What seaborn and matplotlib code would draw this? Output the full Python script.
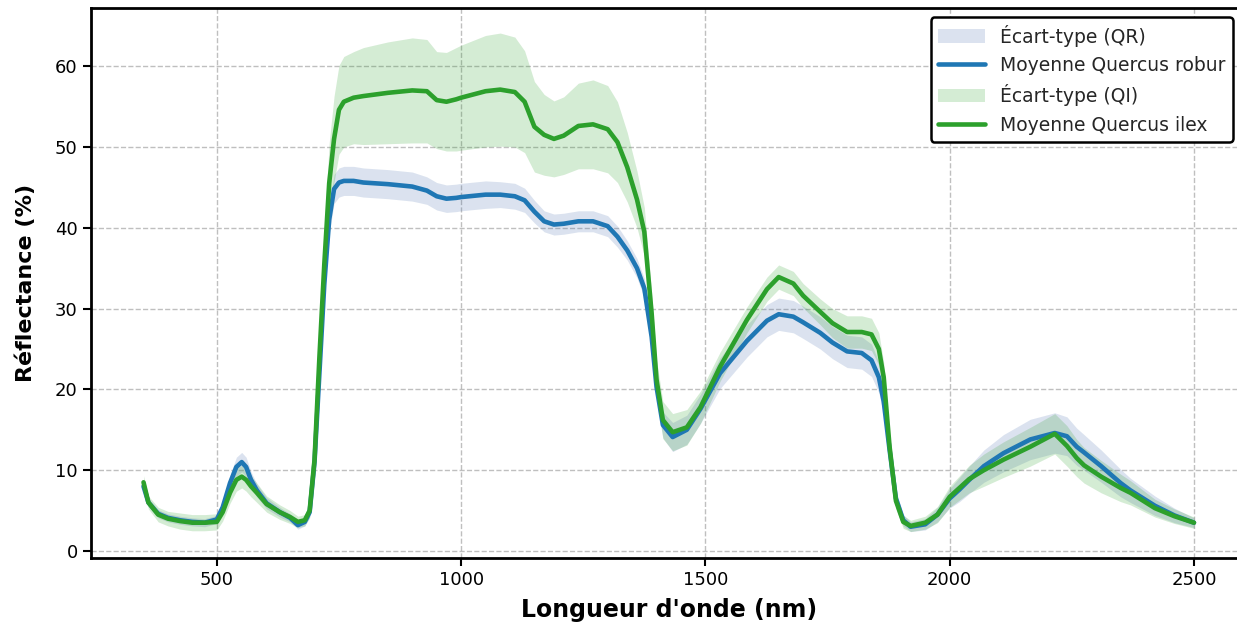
import numpy as np
import pandas as pd
import matplotlib
matplotlib.use("Agg")
import matplotlib.pyplot as plt
import seaborn as sns

wavelengths = [350, 360, 380, 400, 425, 450, 475, 500, 512, 527, 540, 551, 560, 570, 582,
               602, 629, 650, 666, 680, 690, 700, 710, 720, 730, 740, 750, 760, 780, 800, 850,
               900, 930, 950, 970, 990, 1000, 1050, 1080, 1110, 1130, 1150, 1170, 1190, 1210,
               1240, 1270, 1300, 1320, 1340, 1360, 1375, 1390, 1400, 1413, 1433, 1462, 1490,
               1530, 1585, 1626, 1650, 1680, 1700, 1735, 1760, 1790, 1820, 1840, 1855, 1865,
               1877, 1890, 1905, 1920, 1950, 1975, 2000, 2020, 2040, 2070, 2110, 2165, 2215,
               2240, 2260, 2275, 2310, 2350, 2370, 2420, 2460, 2500]

mean_qr = [8.0, 6.0, 4.6, 4.1, 3.8, 3.6, 3.5, 3.9, 5.4, 8.4, 10.4, 11.0, 10.4, 8.8, 7.5,
           5.9, 4.8, 4.1, 3.2, 3.6, 4.8, 11.0, 22.0, 33.0, 41.0, 44.8, 45.6, 45.8, 45.8, 45.6, 45.4,
           45.1, 44.6, 43.9, 43.6, 43.7, 43.8, 44.1, 44.1, 43.9, 43.4, 42.0, 40.8, 40.4, 40.5,
           40.8, 40.8, 40.2, 38.9, 37.2, 35.0, 32.5, 26.5, 20.3, 15.6, 14.1, 15.0, 17.6,
           22.0, 26.0, 28.5, 29.3, 29.0, 28.3, 27.0, 25.8, 24.7, 24.5, 23.6, 21.5, 18.5,
           12.5, 6.5, 3.8, 3.0, 3.3, 4.5, 6.5, 7.6, 8.8, 10.5, 12.1, 13.8, 14.6,
           14.2, 12.9, 12.2, 10.5, 8.4, 7.5, 5.6, 4.4, 3.5]

std_qr = [0.6, 0.5, 0.5, 0.5, 0.5, 0.5, 0.5, 0.5, 0.7, 1.0, 1.2, 1.2, 1.2, 1.0, 0.8,
          0.7, 0.6, 0.5, 0.5, 0.5, 0.6, 1.0, 1.3, 1.5, 1.7, 1.8, 1.8, 1.8, 1.8, 1.8, 1.8,
          1.8, 1.7, 1.7, 1.7, 1.7, 1.7, 1.7, 1.6, 1.6, 1.5, 1.4, 1.3, 1.3, 1.3,
          1.3, 1.3, 1.3, 1.3, 1.2, 1.2, 1.2, 1.3, 1.4, 1.6, 1.8, 1.8, 1.8,
          1.9, 2.0, 2.0, 2.0, 2.0, 2.0, 2.0, 2.0, 2.0, 2.0, 2.0, 1.9, 1.7,
          1.3, 0.9, 0.7, 0.6, 0.7, 0.9, 1.2, 1.5, 1.7, 2.0, 2.3, 2.5, 2.5,
          2.4, 2.3, 2.2, 2.0, 1.7, 1.5, 1.2, 0.9, 0.6]

mean_qi = [8.5, 6.0, 4.5, 4.0, 3.7, 3.5, 3.5, 3.6, 4.8, 7.2, 8.8, 9.2, 8.8, 8.0, 7.2,
           5.8, 4.8, 4.2, 3.6, 3.8, 5.0, 11.3, 24.0, 35.5, 45.5, 51.0, 54.6, 55.6, 56.1, 56.3, 56.7,
           57.0, 56.9, 55.8, 55.6, 55.9, 56.1, 56.9, 57.1, 56.8, 55.6, 52.5, 51.5, 51.0, 51.4,
           52.6, 52.8, 52.2, 50.6, 47.5, 43.5, 39.5, 29.4, 21.2, 16.2, 14.7, 15.3, 17.8,
           22.8, 28.6, 32.4, 33.9, 33.1, 31.6, 29.6, 28.2, 27.1, 27.1, 26.8, 25.0, 21.5,
           12.9, 6.2, 3.6, 3.1, 3.5, 4.5, 6.7, 7.8, 8.9, 10.0, 11.3, 12.9, 14.5,
           13.0, 11.5, 10.6, 9.2, 7.8, 7.2, 5.3, 4.3, 3.5]

std_qi = [0.8, 0.8, 0.9, 0.9, 1.0, 1.0, 1.0, 1.0, 1.1, 1.3, 1.4, 1.4, 1.4, 1.3, 1.2,
          1.0, 0.9, 0.8, 0.7, 0.7, 0.9, 2.0, 3.5, 4.5, 5.0, 5.3, 5.5, 5.6, 5.7, 6.0, 6.3,
          6.5, 6.4, 6.0, 6.1, 6.4, 6.5, 6.9, 7.0, 6.8, 6.3, 5.6, 5.0, 4.7, 4.8,
          5.3, 5.5, 5.4, 5.0, 4.3, 3.5, 3.0, 2.6, 2.4, 2.3, 2.3, 2.2, 2.0,
          1.8, 1.6, 1.5, 1.5, 1.5, 1.5, 1.6, 1.8, 2.0, 2.0, 2.0, 2.0, 1.8,
          1.5, 1.0, 0.8, 0.7, 0.8, 1.0, 1.3, 1.5, 1.7, 2.0, 2.2, 2.4, 2.5,
          2.5, 2.3, 2.2, 2.0, 1.7, 1.5, 1.1, 0.9, 0.7]

x_ticks = [500, 1000, 1500, 2000, 2500]
y_ticks = [0, 10, 20, 30, 40, 50, 60]

sns.set_theme(style="whitegrid")
plt.rcParams['font.family'] = ['DejaVu Sans']

df = pd.DataFrame({
    "wl": wavelengths,
    "mqr": mean_qr, "sqr": std_qr,
    "mqi": mean_qi, "sqi": std_qi,
})
wl = df["wl"].to_numpy()
mqr = df["mqr"].to_numpy(); sqr = df["sqr"].to_numpy()
mqi = df["mqi"].to_numpy(); sqi = df["sqi"].to_numpy()

fig = plt.figure(figsize=(12.37, 6.23), dpi=100)
ax = fig.add_axes([91/1237, 65/623, (1246.5-91)/1237, 550/623])

ax.fill_between(wl, mqr - sqr, mqr + sqr, color="#4c72b0", alpha=0.2, lw=0,
                label="Écart-type (QR)")
sns.lineplot(data=df, x="wl", y="mqr", ax=ax, color="#1f77b4", lw=3.3,
             label="Moyenne Quercus robur")
ax.fill_between(wl, mqi - sqi, mqi + sqi, color="#2ca02c", alpha=0.2, lw=0,
                label="Écart-type (QI)")
sns.lineplot(data=df, x="wl", y="mqi", ax=ax, color="#2ca02c", lw=3.3,
             label="Moyenne Quercus ilex")

ax.set_xlim(242.5, 2607.5)
ax.set_ylim(-0.87, 67.2)
ax.set_xticks(x_ticks)
ax.set_yticks(y_ticks)

ax.grid(True, linestyle="--", color="#b0b0b0", linewidth=1.0, alpha=0.8)
for s in ax.spines.values():
    s.set_color("black")
    s.set_linewidth(2)
ax.tick_params(axis="both", which="major", direction="out", length=6, width=1.5,
               color="black", labelsize=13, labelcolor="black", bottom=True, left=True)

ax.set_xlabel("Longueur d'onde (nm)", fontsize=17, fontweight="bold", color="black", labelpad=6)
ax.set_ylabel("Réflectance (%)", fontsize=16, fontweight="bold", color="black", labelpad=14)

leg = ax.legend(loc="upper right", bbox_to_anchor=(0.9883, 0.9836), fontsize=13.5,
                frameon=True, framealpha=1, edgecolor="black", fancybox=True,
                borderaxespad=0.0, handlelength=2.5)
leg.get_frame().set_linewidth(1.8)

fig.savefig("out.png", dpi=100)
